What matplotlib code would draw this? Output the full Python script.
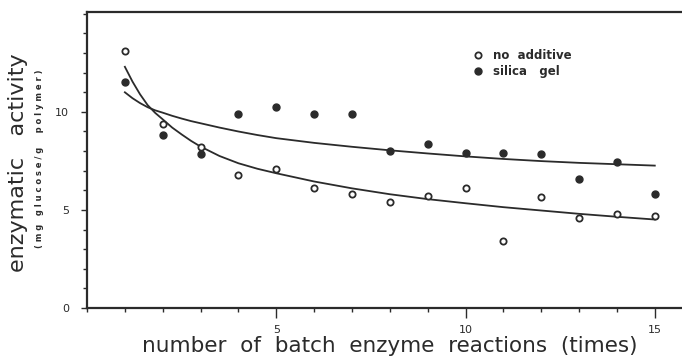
import matplotlib.pyplot as plt
from matplotlib.ticker import FixedLocator, MultipleLocator

# batch number
runs = [1, 2, 3, 4, 5, 6, 7, 8, 9, 10, 11, 12, 13, 14, 15]
# measured activity (mg glucose/g polymer)
no_additive = [13.1, 9.4, 8.2, 6.8, 7.1, 6.1, 5.8, 5.4, 5.7, 6.1, 3.4, 5.65, 4.6, 4.8, 4.7]
silica_gel = [11.55, 8.8, 7.85, 9.9, 10.25, 9.9, 9.9, 8.0, 8.35, 7.9, 7.9, 7.85, 6.6, 7.45, 5.8]

# fitted curves
fit_x = [1, 1.2, 1.4, 1.6, 1.8, 2, 2.25, 2.5, 2.75, 3, 3.5, 4, 4.5, 5,
         6, 7, 8, 9, 10, 11, 12, 13, 14, 15]
fit_no_additive = [12.3, 11.55, 10.9, 10.35, 9.95, 9.62, 9.2, 8.85, 8.52, 8.23, 7.75,
                   7.38, 7.1, 6.87, 6.45, 6.1, 5.8, 5.55, 5.34, 5.14, 4.97, 4.8,
                   4.65, 4.51]
fit_silica_gel = [11.0, 10.7, 10.45, 10.24, 10.08, 9.96, 9.8, 9.66, 9.53, 9.42, 9.2,
                  9.0, 8.82, 8.66, 8.42, 8.22, 8.04, 7.88, 7.73, 7.6, 7.49, 7.4,
                  7.33, 7.26]

ink = "#2b2b2b"

fig = plt.figure(figsize=(6.82, 3.61), dpi=100)
ax = fig.add_axes([0.1276, 0.147, 0.888, 0.82])

ax.plot(fit_x, fit_no_additive, color=ink, lw=1.3)
ax.plot(fit_x, fit_silica_gel, color=ink, lw=1.3)
ax.plot(runs, no_additive, "o", ms=4.5, mfc="white", mec=ink, mew=1.3,
        linestyle="none", label="no  additive")
ax.plot(runs, silica_gel, "o", ms=5, mfc=ink, mec=ink,
        linestyle="none", label="silica   gel")

ax.set_xlim(0, 16)
ax.set_ylim(0, 15.1)
ax.xaxis.set_major_locator(FixedLocator([5, 10, 15]))
ax.xaxis.set_minor_locator(MultipleLocator(1))
ax.yaxis.set_major_locator(FixedLocator([0, 5, 10]))
ax.yaxis.set_minor_locator(MultipleLocator(1))
ax.tick_params(which="major", length=4, width=1, color=ink, labelsize=8,
               labelcolor=ink, pad=9)
ax.tick_params(which="minor", length=3, width=1, color=ink)
ax.tick_params(axis="x", which="major", length=7, pad=5)

for side in ["left", "bottom", "top"]:
    ax.spines[side].set_linewidth(1.6)
    ax.spines[side].set_color(ink)
ax.spines["right"].set_visible(False)

ax.set_xlabel("number  of  batch  enzyme  reactions  (times)", fontsize=15.5,
              color=ink, labelpad=1)

fig.text(0.027, 0.548, "enzymatic   activity", rotation=90,
         fontsize=16, color=ink, ha="center", va="center")
fig.text(0.058, 0.56, "( m g   g l u c o s e / g     p o l y m e r )", rotation=90,
         fontsize=6, fontweight="bold", color=ink, ha="center", va="center")

leg = ax.legend(loc="upper left", bbox_to_anchor=(0.63, 0.89), frameon=False,
                handletextpad=0.9, handlelength=0.8, labelspacing=0.25,
                prop={"size": 8.5, "weight": "bold"}, borderaxespad=0)
for t in leg.get_texts():
    t.set_color(ink)

fig.savefig("out.png", dpi=100)
